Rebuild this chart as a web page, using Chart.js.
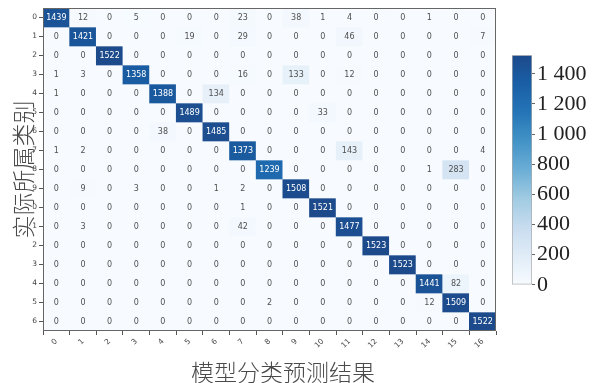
<!DOCTYPE html>
<html>
<head>
<meta charset="utf-8">
<script src="https://cdn.jsdelivr.net/npm/chart.js@4/dist/chart.umd.min.js"></script>
<style>
  body { margin: 0; background: #fff; }
  #wrap { position: relative; width: 601px; height: 383px; }
  #chart { position: absolute; left: 0; top: 0; }
  #bar { position: absolute; left: 500px; top: 40px; }
</style>
</head>
<body>
<div id="wrap">
  <canvas id="chart" width="601" height="383"></canvas>
  <canvas id="bar" width="101" height="260"></canvas>
</div>
<script>
// ===== data =====
const colLabels = ["0","1","2","3","4","5","6","7","8","9","10","11","12","13","14","15","16"];
// row labels as they show on the left edge (leading digit cut off)
const rowLabels = ["0","1","2","3","4","5","6","7","8","9","0","1","2","3","4","5","6"];
const xTitle = '模型分类预测结果';
const yTitle = '实际所属类别';

const row0  = [1439, 12, 0, 5, 0, 0, 0, 23, 0, 38, 1, 4, 0, 0, 1, 0, 0];
const row1  = [0, 1421, 0, 0, 0, 19, 0, 29, 0, 0, 0, 46, 0, 0, 0, 0, 7];
const row2  = [0, 0, 1522, 0, 0, 0, 0, 0, 0, 0, 0, 0, 0, 0, 0, 0, 0];
const row3  = [1, 3, 0, 1358, 0, 0, 0, 16, 0, 133, 0, 12, 0, 0, 0, 0, 0];
const row4  = [1, 0, 0, 0, 1388, 0, 134, 0, 0, 0, 0, 0, 0, 0, 0, 0, 0];
const row5  = [0, 0, 0, 0, 0, 1489, 0, 0, 0, 0, 33, 0, 0, 0, 0, 0, 0];
const row6  = [0, 0, 0, 0, 38, 0, 1485, 0, 0, 0, 0, 0, 0, 0, 0, 0, 0];
const row7  = [1, 2, 0, 0, 0, 0, 0, 1373, 0, 0, 0, 143, 0, 0, 0, 0, 4];
const row8  = [0, 0, 0, 0, 0, 0, 0, 0, 1239, 0, 0, 0, 0, 0, 1, 283, 0];
const row9  = [0, 9, 0, 3, 0, 0, 1, 2, 0, 1508, 0, 0, 0, 0, 0, 0, 0];
const row10 = [0, 0, 0, 0, 0, 0, 0, 1, 0, 0, 1521, 0, 0, 0, 0, 0, 0];
const row11 = [0, 3, 0, 0, 0, 0, 0, 42, 0, 0, 0, 1477, 0, 0, 0, 0, 0];
const row12 = [0, 0, 0, 0, 0, 0, 0, 0, 0, 0, 0, 0, 1523, 0, 0, 0, 0];
const row13 = [0, 0, 0, 0, 0, 0, 0, 0, 0, 0, 0, 0, 0, 1523, 0, 0, 0];
const row14 = [0, 0, 0, 0, 0, 0, 0, 0, 0, 0, 0, 0, 0, 0, 1441, 82, 0];
const row15 = [0, 0, 0, 0, 0, 0, 0, 0, 2, 0, 0, 0, 0, 0, 12, 1509, 0];
const row16 = [0, 0, 0, 0, 0, 0, 0, 0, 0, 0, 0, 0, 0, 0, 0, 0, 1522];

const rows = [row0, row1, row2, row3, row4, row5, row6, row7, row8, row9,
              row10, row11, row12, row13, row14, row15, row16];

const vMax = 1523;
const barTicks = [0, 200, 400, 600, 800, 1000, 1200, 1400];

// a slightly washed-out "Blues", as it looks in the picture
const blues = ["#f7fbff","#e0ecf7","#c8dcef","#a0cbe2","#6caed6","#4393c7","#2575b7","#1a5fa6","#1c4a8b"];

function hexToRgb(h){
    return [parseInt(h.slice(1,3),16), parseInt(h.slice(3,5),16), parseInt(h.slice(5,7),16)];
}
function bluesColor(v){
    let t = Math.max(0, Math.min(1, v / vMax)) * (blues.length - 1);
    let i = Math.min(Math.floor(t), blues.length - 2);
    let f = t - i;
    let a = hexToRgb(blues[i]), b = hexToRgb(blues[i+1]);
    let c = a.map((x, k) => Math.round(x + (b[k] - x) * f));
    return 'rgb(' + c.join(',') + ')';
}

// ========== heatmap: one floating-bar dataset per row ==========
const datasets = rows.map((r, i) => ({
    label: 'row ' + i,
    data: r.map(() => [i - 0.5, i + 0.5]),
    backgroundColor: r.map(v => bluesColor(v)),
    borderWidth: 0,
    barPercentage: 1,
    categoryPercentage: 1,
    grouped: false
}));

const cellText = {
    id: 'cellText',
    afterDatasetsDraw(chart){
        const ctx = chart.ctx;
        const xs = chart.scales.x, ys = chart.scales.y;
        ctx.save();
        ctx.font = '8px "DejaVu Sans"';
        ctx.textAlign = 'center';
        ctx.textBaseline = 'middle';
        rows.forEach((r, i) => {
            r.forEach((v, j) => {
                ctx.fillStyle = v > vMax / 2 ? '#ffffff' : '#505050';
                ctx.fillText(String(v), xs.getPixelForValue(j), ys.getPixelForValue(i));
            });
        });
        // frame round the plot
        const a = chart.chartArea;
        ctx.strokeStyle = '#666';
        ctx.lineWidth = 1;
        ctx.strokeRect(a.left + 0.5, a.top + 0.5, a.right - a.left - 1, a.bottom - a.top - 1);
        // x title, sits a little right of the plot centre in the picture
        ctx.font = '300 23px "Noto Sans CJK SC"';
        ctx.fillStyle = '#4a4a4a';
        ctx.fillText(xTitle, 283, 372);
        ctx.restore();
    }
};

new Chart(document.getElementById('chart').getContext('2d'), {
    type: 'bar',
    data: { labels: colLabels, datasets: datasets },
    options: {
        responsive: false,
        animation: false,
        layout: { padding: { top: 8, right: 105, left: 0, bottom: 0 } },
        plugins: { legend: { display: false }, tooltip: { enabled: false } },
        scales: {
            x: {
                type: 'category',
                grid: { display: true, drawOnChartArea: false, tickLength: 4, color: '#555' },
                border: { display: false },
                ticks: { font: { family: 'DejaVu Sans', size: 7.5 }, color: '#444', minRotation: 45, maxRotation: 45, padding: 2 },
                afterFit(axis){ axis.height = 52; }
            },
            y: {
                type: 'linear',
                reverse: true,
                min: -0.5,
                max: 16.5,
                afterBuildTicks(axis){ axis.ticks = rowLabels.map((_, i) => ({ value: i })); },
                grid: { display: true, drawOnChartArea: false, tickLength: 4, color: '#555' },
                border: { display: false },
                ticks: { font: { family: 'DejaVu Sans', size: 7.5 }, color: '#444', padding: 2,
                         callback: (v) => rowLabels[v] },
                title: { display: true, text: yTitle, font: { family: 'Noto Sans CJK SC', size: 23, weight: '300' }, color: '#4a4a4a', padding: { top: 9, bottom: 0 } },
                afterFit(axis){ axis.width = 43; }
            }
        }
    },
    plugins: [cellText]
});

// ========== colour bar ==========
new Chart(document.getElementById('bar').getContext('2d'), {
    type: 'bar',
    data: {
        labels: ['cb'],
        datasets: [{
            data: [[0, vMax]],
            barPercentage: 1,
            categoryPercentage: 1,
            borderWidth: 1,
            borderColor: '#aaa',
            borderSkipped: false,
            backgroundColor: (c) => {
                const area = c.chart.chartArea;
                if (!area) return blues[4];
                const g = c.chart.ctx.createLinearGradient(0, area.bottom, 0, area.top);
                blues.forEach((col, k) => g.addColorStop(k / (blues.length - 1), col));
                return g;
            }
        }]
    },
    options: {
        responsive: false,
        animation: false,
        layout: { padding: { top: 12, bottom: 12, left: 12, right: 0 } },
        plugins: { legend: { display: false }, tooltip: { enabled: false } },
        scales: {
            x: { display: false },
            y: {
                position: 'right',
                min: 0,
                max: vMax,
                afterBuildTicks(axis){ axis.ticks = barTicks.map(v => ({ value: v })); },
                grid: { display: true, drawOnChartArea: false, tickLength: 3, color: '#666' },
                border: { display: false },
                ticks: {
                    font: { family: 'Liberation Serif', size: 22 },
                    color: '#222',
                    padding: 2,
                    callback: (v) => v >= 1000 ? Math.floor(v / 1000) + ' ' + String(v % 1000).padStart(3, '0') : String(v)
                },
                afterFit(axis){ axis.width = 69; }
            }
        }
    }
});
</script>
</body>
</html>
